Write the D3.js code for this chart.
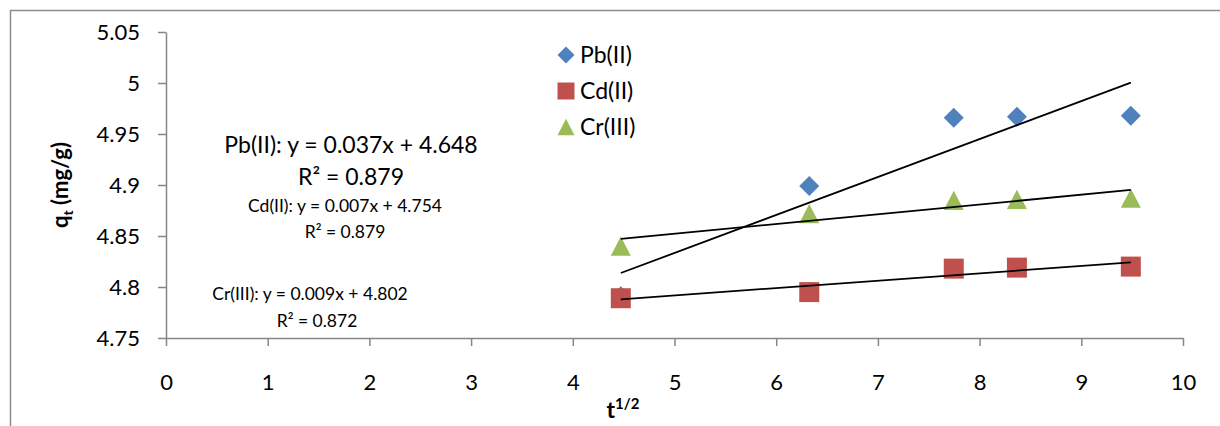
<!DOCTYPE html>
<html>
<head>
<meta charset="utf-8">
<script src="https://cdn.jsdelivr.net/npm/d3@7"></script>
<style>
  body { margin: 0; background: #fff; }
  svg text { font-family: Lato, "Open Sans", sans-serif; fill: #000; }
</style>
</head>
<body>
<script>
// t^1/2 values (x) and q_t for each metal
const tValues = [4.472, 6.325, 7.746, 8.367, 9.487];
const pbValues = [4.791, 4.899, 4.966, 4.967, 4.968];
const cdValues = [4.789, 4.795, 4.818, 4.819, 4.820];
const crValues = [4.840, 4.872, 4.885, 4.886, 4.887];

const seriesNames = ["Pb(II)", "Cd(II)", "Cr(III)"];
const seriesColors = ["#4f81bd", "#c0504d", "#9bbb59"];

const xTicks = [0, 1, 2, 3, 4, 5, 6, 7, 8, 9, 10];
const yTicks = [4.75, 4.8, 4.85, 4.9, 4.95, 5, 5.05];

const eqLabels = [
	["Pb(II): y = 0.037x + 4.648", "R\u00b2 = 0.879"],
	["Cd(II): y = 0.007x + 4.754", "R\u00b2 = 0.879"],
	["Cr(III): y = 0.009x + 4.802", "R\u00b2 = 0.872"]
];

const drawViz = () => {
	const width = 1220;
	const height = 426;
	const margin = {top: 32, bottom: 88, left: 166, right: 37};

	d3.select('body').selectAll('svg').remove();

	const svg = d3.select('body')
	  .append('svg')
	  .attr('width', width)
	  .attr('height', height);

	// outer chart frame (cropped at right and bottom)
	svg.append('path')
		.attr('d', `M10.5,${height} V10.5 H${width}`)
		.attr('fill', 'none')
		.attr('stroke', '#8c8c8c')
		.attr('stroke-width', 1.5);

	const x = d3.scaleLinear().domain([0, 10]).range([margin.left, width - margin.right]);
	const y = d3.scaleLinear().domain([4.75, 5.05]).range([height - margin.bottom, margin.top]);

	const axisColor = '#868686';

	const xAxis = svg.append('g')
		.attr('transform', `translate(0, ${y(4.75)})`)
		.call(d3.axisBottom(x).tickValues(xTicks).tickFormat(d3.format('d')).tickSize(8).tickPadding(28).tickSizeOuter(0));
	const yAxis = svg.append('g')
		.attr('transform', `translate(${x(0)}, 0)`)
		.call(d3.axisLeft(y).tickValues(yTicks).tickFormat(d => String(+d.toFixed(2))).tickSize(8).tickPadding(18).tickSizeOuter(0));

	[xAxis, yAxis].forEach(a => {
		a.selectAll('path, line').attr('stroke', axisColor).attr('stroke-width', 1.5);
		a.selectAll('text').style('font-size', '22px').style('font-family', 'Lato, sans-serif').attr('fill', '#000');
	});

	// axis titles
	const yTitle = svg.append('text')
		.attr('transform', `translate(68, ${y(4.9)}) rotate(-90)`)
		.attr('text-anchor', 'middle')
		.style('font-size', '22px')
		.style('font-weight', 'bold');
	yTitle.append('tspan').text('q');
	yTitle.append('tspan').attr('dy', 5).style('font-size', '14px').text('t');
	yTitle.append('tspan').attr('dy', -5).text(' (mg/g)');

	const xTitle = svg.append('text')
		.attr('x', 623)
		.attr('y', 418)
		.attr('text-anchor', 'middle')
		.style('font-size', '23px')
		.style('font-weight', 'bold');
	xTitle.append('tspan').text('t');
	xTitle.append('tspan').attr('dy', -9).style('font-size', '15px').text('1/2');

	// marker shapes (bounding-box centred)
	const diamond = s => `M0,${-s/2} L${s/2},0 L0,${s/2} L${-s/2},0 Z`;
	const square = s => `M${-s/2},${-s/2} h${s} v${s} h${-s} Z`;
	const triangle = s => `M0,${-s*0.48} L${s/2},${s*0.48} L${-s/2},${s*0.48} Z`;
	const shapes = [diamond, square, triangle];

	const seriesData = [pbValues, cdValues, crValues].map((vals, i) => ({
		name: seriesNames[i],
		color: seriesColors[i],
		shape: shapes[i],
		points: tValues.map((t, j) => ({t: t, q: vals[j]}))
	}));

	// markers
	seriesData.forEach(s => {
		svg.append('g').selectAll('path')
			.data(s.points)
			.enter().append('path')
			.attr('transform', d => `translate(${x(d.t)}, ${y(d.q)})`)
			.attr('d', s.shape(20))
			.attr('fill', s.color);
	});

	// linear trendlines (least squares on each series)
	function fit(points) {
		const mx = d3.mean(points, d => d.t);
		const my = d3.mean(points, d => d.q);
		const slope = d3.sum(points, d => (d.t - mx) * (d.q - my)) / d3.sum(points, d => (d.t - mx) ** 2);
		return {slope: slope, intercept: my - slope * mx};
	}
	const tExtent = d3.extent(tValues);
	seriesData.forEach(s => {
		const f = fit(s.points);
		svg.append('line')
			.attr('x1', x(tExtent[0])).attr('y1', y(f.intercept + f.slope * tExtent[0]))
			.attr('x2', x(tExtent[1])).attr('y2', y(f.intercept + f.slope * tExtent[1]))
			.attr('stroke', '#000')
			.attr('stroke-width', 1.8);
	});

	// legend
	const legend = svg.append('g');
	seriesData.forEach((s, i) => {
		const ly = 55 + i * 36;
		legend.append('path')
			.attr('transform', `translate(566, ${ly})`)
			.attr('d', s.shape(17))
			.attr('fill', s.color);
		legend.append('text')
			.attr('x', 580)
			.attr('y', ly + 8)
			.style('font-size', '23px')
			.text(s.name);
	});

	// trendline equation labels
	const eqPos = [
		{x: 351, y: [153, 185], size: 23},
		{x: 345, y: [212, 238], size: 17.5},
		{x: 310, y: [300, 327], size: 17.5}
	];
	eqLabels.forEach((lines, i) => {
		lines.forEach((txt, k) => {
			svg.append('text')
				.attr('x', eqPos[i].x + (i === 2 && k === 1 ? 7 : 0))
				.attr('y', eqPos[i].y[k])
				.attr('text-anchor', 'middle')
				.style('font-size', eqPos[i].size + 'px')
				.text(txt);
		});
	});
}

drawViz();
</script>
</body>
</html>
